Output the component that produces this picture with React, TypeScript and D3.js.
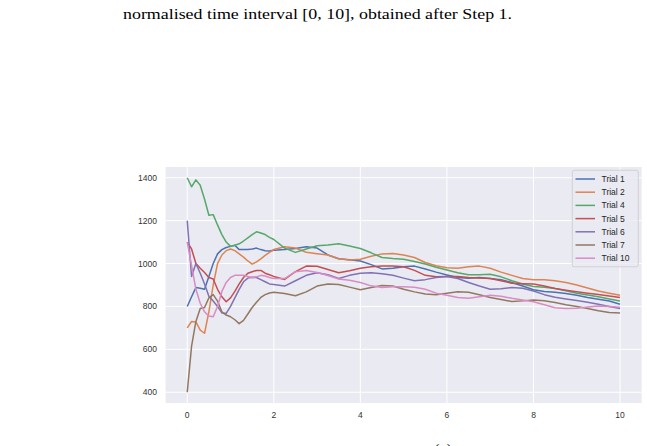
import * as d3 from "d3";

// normalised time (x) shared by every trial
const times = [
  0, 0.1, 0.2, 0.3, 0.4, 0.5, 0.6, 0.7, 0.8, 0.9, 1.0, 1.1, 1.2, 1.3, 1.4, 1.5, 1.6, 1.7, 1.8, 1.9, 2.0,
  2.25, 2.5, 2.75, 3.0, 3.25, 3.5, 3.75, 4.0, 4.25, 4.5, 4.75, 5.0, 5.25, 5.5, 5.75, 6.0, 6.25, 6.5, 6.75,
  7.0, 7.25, 7.5, 7.75, 8.0, 8.25, 8.5, 8.75, 9.0, 9.25, 9.5, 9.75, 10,
];

const trial1 = [
  800, 845, 888, 885, 880, 940, 1000, 1045, 1065, 1075, 1080, 1085, 1065, 1065, 1065, 1068, 1072, 1065, 1060, 1058, 1062,
  1065, 1070, 1078, 1072, 1040, 1022, 1018, 1012, 995, 975, 978, 985, 988, 975, 960, 947, 935, 932, 935,
  930, 925, 912, 895, 878, 870, 866, 860, 852, 842, 834, 825, 810,
];
const trial2 = [
  700, 730, 728, 690, 675, 775, 900, 1000, 1040, 1060, 1068, 1060, 1045, 1030, 1012, 997, 1008, 1022, 1038, 1052, 1065,
  1078, 1072, 1053, 1046, 1040, 1022, 1016, 1020, 1034, 1045, 1047, 1040, 1028, 1005, 990, 980, 978, 985, 988,
  978, 960, 945, 930, 925, 925, 920, 912, 900, 886, 872, 862, 852,
];
const trial4 = [
  1400, 1358, 1390, 1365, 1300, 1225, 1228, 1180, 1135, 1100, 1080, 1085, 1092, 1105, 1120, 1135, 1148, 1142, 1135, 1122, 1112,
  1072, 1052, 1068, 1083, 1086, 1092, 1082, 1070, 1050, 1028, 1023, 1020, 1010, 998, 983, 970, 957, 948, 948,
  950, 938, 920, 905, 893, 890, 884, 873, 862, 853, 845, 835, 825,
];
const trial5 = [
  1100, 1068, 1000, 978, 958, 935, 928, 880, 845, 822, 840, 870, 905, 935, 955, 962, 968, 968, 955, 948, 940,
  926, 962, 988, 987, 972, 957, 966, 978, 985, 988, 988, 985, 968, 945, 938, 940, 940, 935, 933,
  930, 920, 908, 906, 905, 895, 884, 876, 869, 862, 856, 849, 842,
];
const trial6 = [
  1200, 940, 1000, 955, 905, 848, 825, 800, 770, 768, 800, 840, 880, 915, 932, 936, 935, 925, 915, 905, 902,
  895, 920, 945, 957, 948, 930, 945, 955, 957, 952, 945, 932, 920, 925, 935, 940, 930, 912, 895,
  880, 882, 888, 885, 872, 855, 843, 835, 828, 820, 810, 800, 790,
];
const trial7 = [
  400, 615, 730, 790, 795, 840, 855, 825, 775, 760, 752, 738, 720, 735, 765, 795, 820, 842, 855, 863, 866,
  860, 850, 868, 895, 905, 902, 890, 878, 888, 898, 895, 880, 868, 858, 855, 862, 868, 866, 855,
  842, 832, 823, 826, 830, 827, 818, 808, 800, 790, 780, 772, 770,
];
const trial10 = [
  1100, 990, 880, 815, 775, 755, 752, 800, 870, 912, 935, 945, 946, 945, 940, 935, 938, 945, 942, 935, 930,
  930, 962, 968, 958, 944, 928, 922, 912, 896, 888, 892, 892, 890, 880, 862, 852, 842, 838, 845,
  852, 848, 838, 830, 822, 808, 794, 790, 792, 797, 802, 800, 796,
];

const seriesNames = ["Trial 1", "Trial 2", "Trial 4", "Trial 5", "Trial 6", "Trial 7", "Trial 10"];
const seriesValues = [trial1, trial2, trial4, trial5, trial6, trial7, trial10];
const seriesColors = ["#4C72B0", "#DD8452", "#55A868", "#C44E52", "#8172B3", "#937860", "#DA8BC3"];

const xTicks = [0, 2, 4, 6, 8, 10];
const yTicks = [400, 600, 800, 1000, 1200, 1400];

export default function App() {
  const W = 647;
  const H = 446;
  const left = 165.6;
  const right = 641.7;
  const top = 167;
  const bottom = 403;

  const x = d3.scaleLinear().domain([-0.5, 10.5]).range([left, right]);
  const y = d3.scaleLinear().domain([350, 1450]).range([bottom, top]);

  const line = d3
    .line<[number, number]>()
    .x((d) => x(d[0]))
    .y((d) => y(d[1]));

  const tickFont = "'Liberation Sans', Arial, sans-serif";
  const serif = "'Liberation Serif', 'DejaVu Serif', serif";

  return (
    <svg
      width={W}
      height={H}
      style={{ position: "absolute", left: 0, top: 0, background: "#fff" }}
    >
      <text
        x={123}
        y={19}
        fontFamily={serif}
        fontSize={15.5}
        fill="#000"
        textLength={389}
        lengthAdjust="spacingAndGlyphs"
      >
        normalised time interval [0, 10], obtained after Step 1.
      </text>

      {/* axes background */}
      <rect x={left} y={top} width={right - left} height={bottom - top} fill="#EAEAF2" />

      {/* grid */}
      {xTicks.map((t) => (
        <line key={"gx" + t} x1={x(t)} x2={x(t)} y1={top} y2={bottom} stroke="#fff" strokeWidth={1} />
      ))}
      {yTicks.map((t) => (
        <line key={"gy" + t} x1={left} x2={right} y1={y(t)} y2={y(t)} stroke="#fff" strokeWidth={1} />
      ))}

      {/* series */}
      {seriesValues.map((vals, i) => (
        <path
          key={seriesNames[i]}
          d={line(times.map((t, j) => [t, vals[j]] as [number, number])) || ""}
          fill="none"
          stroke={seriesColors[i]}
          strokeWidth={1.5}
          strokeLinejoin="round"
        />
      ))}

      {/* tick labels */}
      {xTicks.map((t) => (
        <text
          key={"tx" + t}
          x={x(t)}
          y={418}
          textAnchor="middle"
          fontFamily={tickFont}
          fontSize={8.5}
          fill="#333"
        >
          {t}
        </text>
      ))}
      {yTicks.map((t) => (
        <text
          key={"ty" + t}
          x={157}
          y={y(t)}
          dy="0.35em"
          textAnchor="end"
          fontFamily={tickFont}
          fontSize={8.5}
          fill="#333"
        >
          {t}
        </text>
      ))}

      {/* legend */}
      <rect
        x={572.3}
        y={170.3}
        width={66}
        height={96.5}
        rx={2}
        fill="#EAEAF2"
        fillOpacity={0.8}
        stroke="#cccccc"
        strokeWidth={0.8}
      />
      {seriesNames.map((name, i) => {
        const ly = 179 + i * 13.2;
        return (
          <g key={"lg" + name}>
            <line x1={575.5} x2={595} y1={ly} y2={ly} stroke={seriesColors[i]} strokeWidth={1.5} />
            <text
              x={601.5}
              y={ly}
              dy="0.35em"
              fontFamily={tickFont}
              fontSize={8.5}
              fill="#262626"
            >
              {name}
            </text>
          </g>
        );
      })}

      {/* caption label, cut by the bottom edge as in the source page */}
      <text x={443} y={454} textAnchor="middle" fontFamily={serif} fontSize={15.5} fill="#000">
        (a)
      </text>
    </svg>
  );
}
